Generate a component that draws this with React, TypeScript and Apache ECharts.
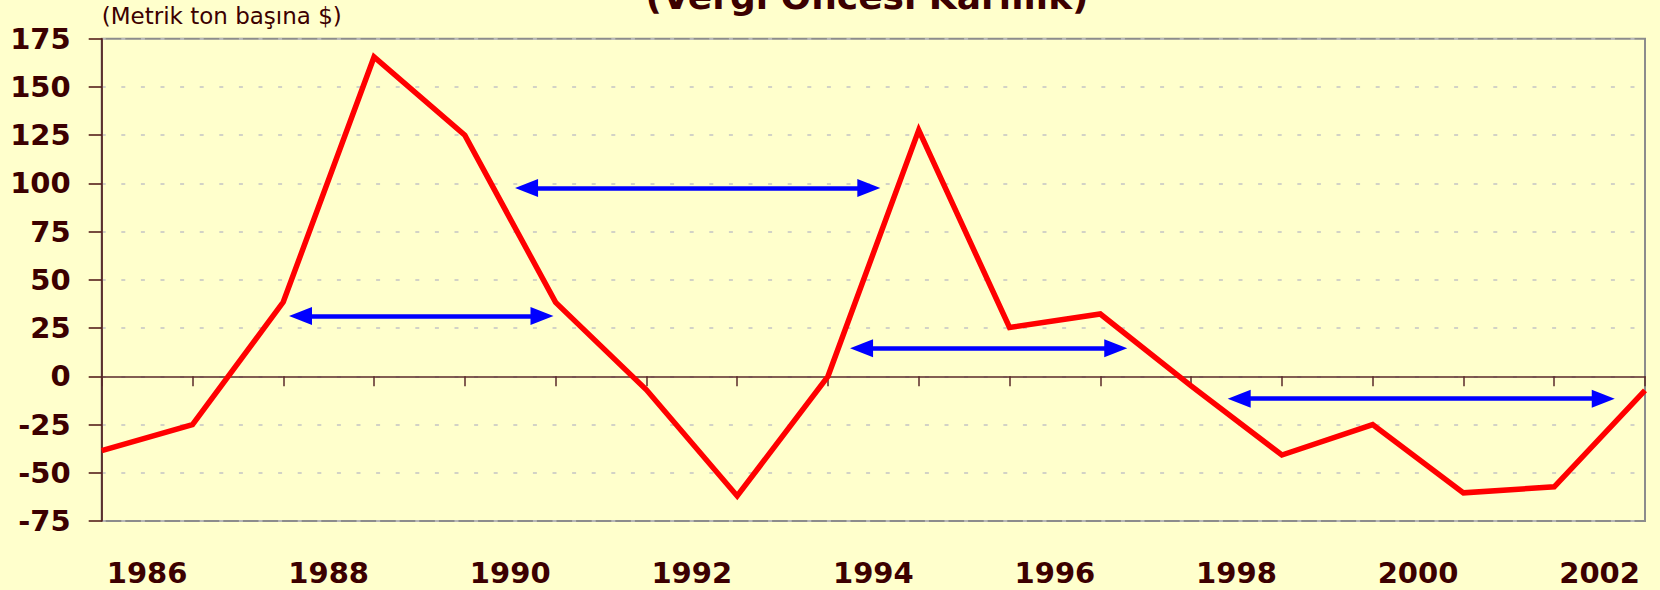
import React, { useEffect, useRef } from "react";
import * as echarts from "echarts";

// Category labels (one per interval between vertices)
const years = [
  "1986", "1987", "1988", "1989", "1990", "1991", "1992", "1993", "1994",
  "1995", "1996", "1997", "1998", "1999", "2000", "2001", "2002",
];

// Profit values at each vertex (18 points, index 0..17)
const profit = [
  -38.5, -25, 38.5, 165.5, 125, 38.3, -7, -62, 0, 127.6, 25.3, 32.3, -5,
  -40.8, -25, -60.4, -57.3, -7.3,
];

// Double-headed blue arrows (positions in vertex-index units, level in $)
const arrowFrom = [2.19, 4.68, 8.37, 12.53];
const arrowTo = [4.85, 8.45, 11.17, 16.54];
const arrowLevel = [31.2, 97.6, 14.6, -11.6];

// Y axis scale
const yMin = -75;
const yMax = 175;
const yStep = 25;

const titleText = "(Vergi Öncesi Karlılık)";
const unitText = "(Metrik ton başına $)";

const TEXT = "#3c0000";
const FONT = "DejaVu Sans";
const HEAD: [number, number] = [18, 23];

export default function App() {
  const ref = useRef<HTMLDivElement>(null);

  useEffect(() => {
    if (!ref.current) return;
    const chart = echarts.init(ref.current, null, { renderer: "svg" });

    const option: any = {
      animation: false,
      backgroundColor: "#FFFFCC",
      grid: {
        left: 101.7,
        right: 15,
        top: 38.7,
        bottom: 69,
        show: true,
        backgroundColor: "#FFFFCC",
        borderColor: "#8c8c8c",
        borderWidth: 2,
      },
      graphic: [
        {
          type: "text",
          x: 867,
          y: -4,
          style: {
            text: titleText,
            fill: TEXT,
            font: `bold 36px "${FONT}"`,
            textAlign: "center",
            textVerticalAlign: "middle",
          },
        },
        {
          type: "text",
          x: 101.7,
          y: 16,
          style: {
            text: unitText,
            fill: TEXT,
            font: `23px "${FONT}"`,
            textAlign: "left",
            textVerticalAlign: "middle",
          },
        },
      ],
      xAxis: [
        {
          type: "category",
          data: years,
          boundaryGap: true,
          position: "bottom",
          axisLine: { show: false, onZero: false },
          axisTick: { show: false },
          splitLine: { show: false },
          axisLabel: {
            interval: 1,
            margin: 37,
            color: TEXT,
            fontFamily: FONT,
            fontWeight: "bold",
            fontSize: 29,
          },
        },
        {
          type: "category",
          data: years,
          boundaryGap: true,
          position: "bottom",
          axisLine: {
            show: true,
            onZero: true,
            lineStyle: { color: "#5a2a2a", width: 1.5 },
          },
          axisTick: {
            show: true,
            interval: 0,
            length: 10,
            lineStyle: { color: "#5a2a2a", width: 1.5 },
          },
          axisLabel: { show: false },
          splitLine: { show: false },
        },
        {
          type: "value",
          min: 0,
          max: years.length,
          show: false,
        },
      ],
      yAxis: {
        type: "value",
        min: yMin,
        max: yMax,
        interval: yStep,
        axisLine: {
          show: true,
          onZero: false,
          lineStyle: { color: "#4a1010", width: 1.5 },
        },
        axisTick: {
          show: true,
          length: 13,
          lineStyle: { color: "#4a1010", width: 1.5 },
        },
        axisLabel: {
          margin: 31,
          color: TEXT,
          fontFamily: FONT,
          fontWeight: "bold",
          fontSize: 29,
        },
        splitLine: {
          show: true,
          lineStyle: { color: "#c4c4c4", width: 1.5, type: [4, 15.6] },
        },
      },
      series: [
        {
          type: "line",
          xAxisIndex: 2,
          yAxisIndex: 0,
          data: profit.map((v, i) => [i, v]),
          symbol: "none",
          showSymbol: false,
          lineStyle: { color: "#FF0000", width: 5.5, join: "miter" },
          z: 5,
          markLine: {
            silent: true,
            symbol: ["triangle", "triangle"],
            symbolSize: 20,
            label: { show: false },
            lineStyle: { color: "#0000FF", width: 4.5, type: "solid" },
            itemStyle: { color: "#0000FF" },
            emphasis: { disabled: true },
            data: arrowFrom.map((x, i) => [
              { coord: [x, arrowLevel[i]], symbolSize: HEAD },
              { coord: [arrowTo[i], arrowLevel[i]], symbolSize: HEAD },
            ]),
            z: 6,
          },
        },
      ],
    };

    chart.setOption(option);
    return () => chart.dispose();
  }, []);

  return (
    <div
      ref={ref}
      style={{
        position: "fixed",
        left: 0,
        top: 0,
        width: 1660,
        height: 590,
        background: "#FFFFCC",
      }}
    />
  );
}
